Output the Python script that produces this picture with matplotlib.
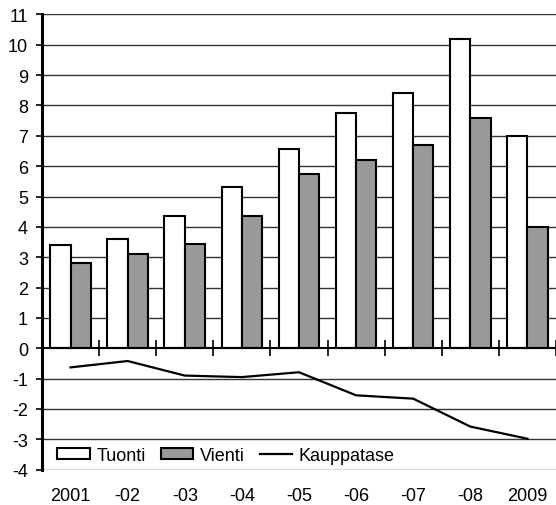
import matplotlib
matplotlib.use("Agg")
import matplotlib.pyplot as plt
import numpy as np

years = ["2001", "-02", "-03", "-04", "-05", "-06", "-07", "-08", "2009"]
tuonti = [3.4, 3.6, 4.35, 5.3, 6.55, 7.75, 8.4, 10.2, 7.0]
vienti = [2.8, 3.1, 3.45, 4.35, 5.75, 6.2, 6.7, 7.6, 4.0]
kauppatase = [-0.63, -0.42, -0.9, -0.95, -0.79, -1.55, -1.66, -2.58, -2.98]
yticks = list(range(-4, 12))

plt.rcParams['font.family'] = ['Liberation Sans', 'DejaVu Sans']
fig = plt.figure(figsize=(5.56, 5.06), dpi=100)
ax = fig.add_axes([0.0755, 0.0698, 0.9245, 0.8998])

x = np.arange(len(years))
w = 0.355
for yv in yticks:
    if yv != 0:
        ax.axhline(yv, color='#333333', lw=1.0, zorder=0)

b1 = ax.bar(x - w / 2, tuonti, w, color='white', edgecolor='black', lw=1.5, zorder=2, label='Tuonti')
b2 = ax.bar(x + w / 2, vienti, w, color='#999999', edgecolor='black', lw=1.5, zorder=2, label='Vienti')
l1, = ax.plot(x, kauppatase, color='black', lw=1.6, zorder=3, label='Kauppatase')

ax.set_xlim(-0.5, len(years) - 0.5)
ax.set_ylim(-4, 11)
ax.set_yticks(yticks)
ax.set_yticklabels([str(v) for v in yticks], fontsize=13)
ax.tick_params(axis='y', direction='out', length=4, width=1.2, pad=6)

ax.spines['top'].set_visible(False)
ax.spines['right'].set_visible(False)
ax.spines['left'].set_linewidth(2.2)
ax.spines['bottom'].set_position(('data', 0))
ax.spines['bottom'].set_linewidth(1.5)
ax.set_xticks(np.arange(len(years)) + 0.5)
ax.set_xticklabels([])
ax.tick_params(axis='x', direction='inout', length=12, width=1.2)

for i, lab in enumerate(years):
    ax.text(i, -0.057, lab, transform=ax.get_xaxis_transform(), ha='center', va='center', fontsize=13)

leg = ax.legend([b1, b2, l1], ['Tuonti', 'Vienti', 'Kauppatase'],
                loc='center left', bbox_to_anchor=(0.03, 0.032), ncol=3, frameon=False,
                fontsize=13, handlelength=1.8, handleheight=0.55, handletextpad=0.35,
                columnspacing=0.85, borderpad=0, borderaxespad=0)

fig.savefig('out.png', dpi=100)
